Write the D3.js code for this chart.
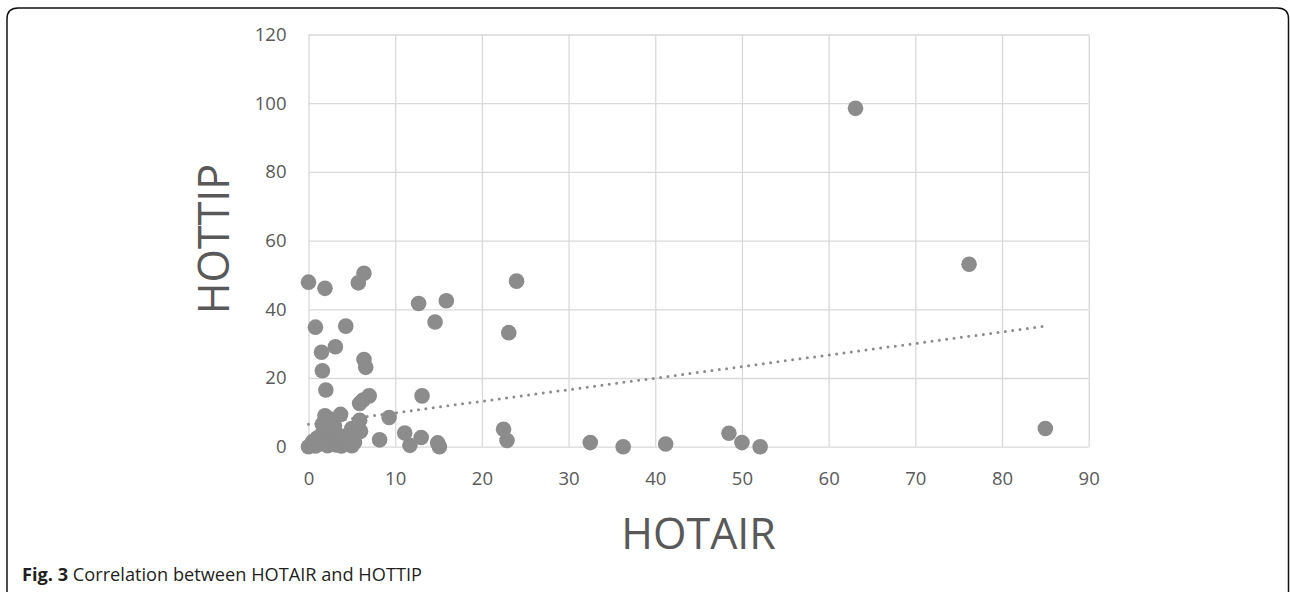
<!DOCTYPE html>
<html>
<head>
<meta charset="utf-8">
<script src="https://cdn.jsdelivr.net/npm/d3@7"></script>
<style>
  body { margin: 0; background: #fff; }
  .grid line { stroke: #d9d9d9; stroke-width: 1.3; }
  .grid path { display: none; }
  .axis text { fill: #595959; font-family: "Open Sans", sans-serif; font-size: 18.5px; }
  .title { fill: #595959; font-family: "Open Sans", sans-serif; font-size: 43px; }
  .caption { font-family: "Open Sans", sans-serif; font-size: 18.2px; fill: #231f20; }
</style>
</head>
<body>
<div id="chart"></div>
<script>
// chart size and plot box
let W = 1290, H = 592;
let margin = {top: 34.5, right: 201.3, bottom: 145.3, left: 308.5},
    width = W - margin.left - margin.right,
    height = H - margin.top - margin.bottom;

// HOTAIR (x) vs HOTTIP (y) expression
let hotair = [0, 1.9, 5.75, 6.4, 0.8, 4.3, 1.5, 3.1, 1.6, 6.4, 6.6, 2.0, 7.0, 5.9, 6.3,
    1.9, 3.7, 5.9, 9.3, 8.2, 11.1, 13.0, 11.7, 14.9, 15.1, 13.1, 12.7, 15.9, 14.6,
    24.0, 23.1, 22.5, 22.9, 32.5, 36.3, 41.2, 48.5, 50.0, 52.1, 63.1, 76.2, 85.0,
    0, 0.3, 0.5, 0.8, 1.0, 1.2, 1.5, 1.8, 2.0, 2.2, 2.4, 2.6, 2.8, 3.0, 3.2, 3.4, 3.6,
    3.8, 4.0, 4.3, 4.5, 4.8, 5.0, 5.3, 5.6, 6.0, 2.0, 1.6, 2.6, 4.4, 5.0, 5.7];
let hottip = [47.9, 46.1, 47.7, 50.5, 34.8, 35.1, 27.5, 29.1, 22.1, 25.4, 23.1, 16.5, 14.8, 12.6, 13.6,
    9.0, 9.4, 7.7, 8.5, 2.0, 4.0, 2.7, 0.4, 1.1, 0.0, 14.8, 41.7, 42.5, 36.3,
    48.2, 33.2, 5.1, 1.8, 1.2, 0.0, 0.8, 3.9, 1.2, 0.0, 98.5, 53.1, 5.3,
    0, 0.5, 1.5, 0.2, 2.5, 0.8, 3.5, 1.2, 5.5, 0.3, 2.0, 4.0, 1.0, 6.0, 0.5, 2.8, 1.5,
    0.2, 3.0, 0.8, 2.0, 3.5, 0.3, 1.2, 4.0, 4.5, 7.5, 6.5, 8.0, 2.9, 5.3, 4.4];

// linear trendline end points
let trendX = [0, 85];
let trendY = [6.5, 35.1];

let xTicks = [0, 10, 20, 30, 40, 50, 60, 70, 80, 90];
let yTicks = [0, 20, 40, 60, 80, 100, 120];

let x = d3.scaleLinear().domain([0, 90]).range([0, width]);
let y = d3.scaleLinear().domain([0, 120]).range([height, 0]);

let svg = d3.select("#chart").append("svg")
    .attr("width", W)
    .attr("height", H);

// frame with rounded top corners, runs off the bottom
let r = 11, fx0 = 7, fx1 = 1288.5, fy0 = 8;
svg.append("path")
    .attr("d", "M" + fx0 + "," + (H + 5) + "V" + (fy0 + r) +
        "Q" + fx0 + "," + fy0 + " " + (fx0 + r) + "," + fy0 +
        "H" + (fx1 - r) + "Q" + fx1 + "," + fy0 + " " + fx1 + "," + (fy0 + r) +
        "V" + (H + 5))
    .attr("fill", "none")
    .attr("stroke", "#111")
    .attr("stroke-width", 1.5);

let g = svg.append("g")
    .attr("transform", "translate(" + margin.left + "," + margin.top + ")");

// grid + tick labels
g.append("g")
    .attr("class", "grid axis")
    .attr("transform", "translate(0," + height + ")")
    .call(d3.axisBottom(x).tickValues(xTicks).tickSize(-height).tickPadding(25));

g.append("g")
    .attr("class", "grid axis")
    .call(d3.axisLeft(y).tickValues(yTicks).tickSize(-width).tickPadding(22));

// trendline (dotted)
g.append("path")
    .datum(d3.zip(trendX, trendY))
    .attr("fill", "none")
    .attr("stroke", "#8c8c8c")
    .attr("stroke-width", 3)
    .attr("stroke-linecap", "round")
    .attr("stroke-dasharray", "0,7.4")
    .attr("d", d3.line().x((d) => x(d[0])).y((d) => y(d[1])));

// points
g.append("g").selectAll("circle")
    .data(d3.zip(hotair, hottip))
    .enter().append("circle")
    .attr("cx", (d) => x(d[0]))
    .attr("cy", (d) => y(d[1]))
    .attr("r", 7.8)
    .attr("fill", "#8c8c8c");

// axis titles
g.append("text")
    .attr("class", "title")
    .attr("text-anchor", "middle")
    .attr("x", width / 2)
    .attr("y", 549 - margin.top)
    .text("HOTAIR");

g.append("text")
    .attr("class", "title")
    .attr("text-anchor", "middle")
    .attr("transform", "translate(" + (228.5 - margin.left) + "," + (239 - margin.top) + ") rotate(-90)")
    .text("HOTTIP");

// caption
let cap = svg.append("text")
    .attr("class", "caption")
    .attr("x", 22)
    .attr("y", 581);
cap.append("tspan").attr("font-weight", "bold").text("Fig. 3");
cap.append("tspan").text(" Correlation between HOTAIR and HOTTIP");
</script>
</body>
</html>
